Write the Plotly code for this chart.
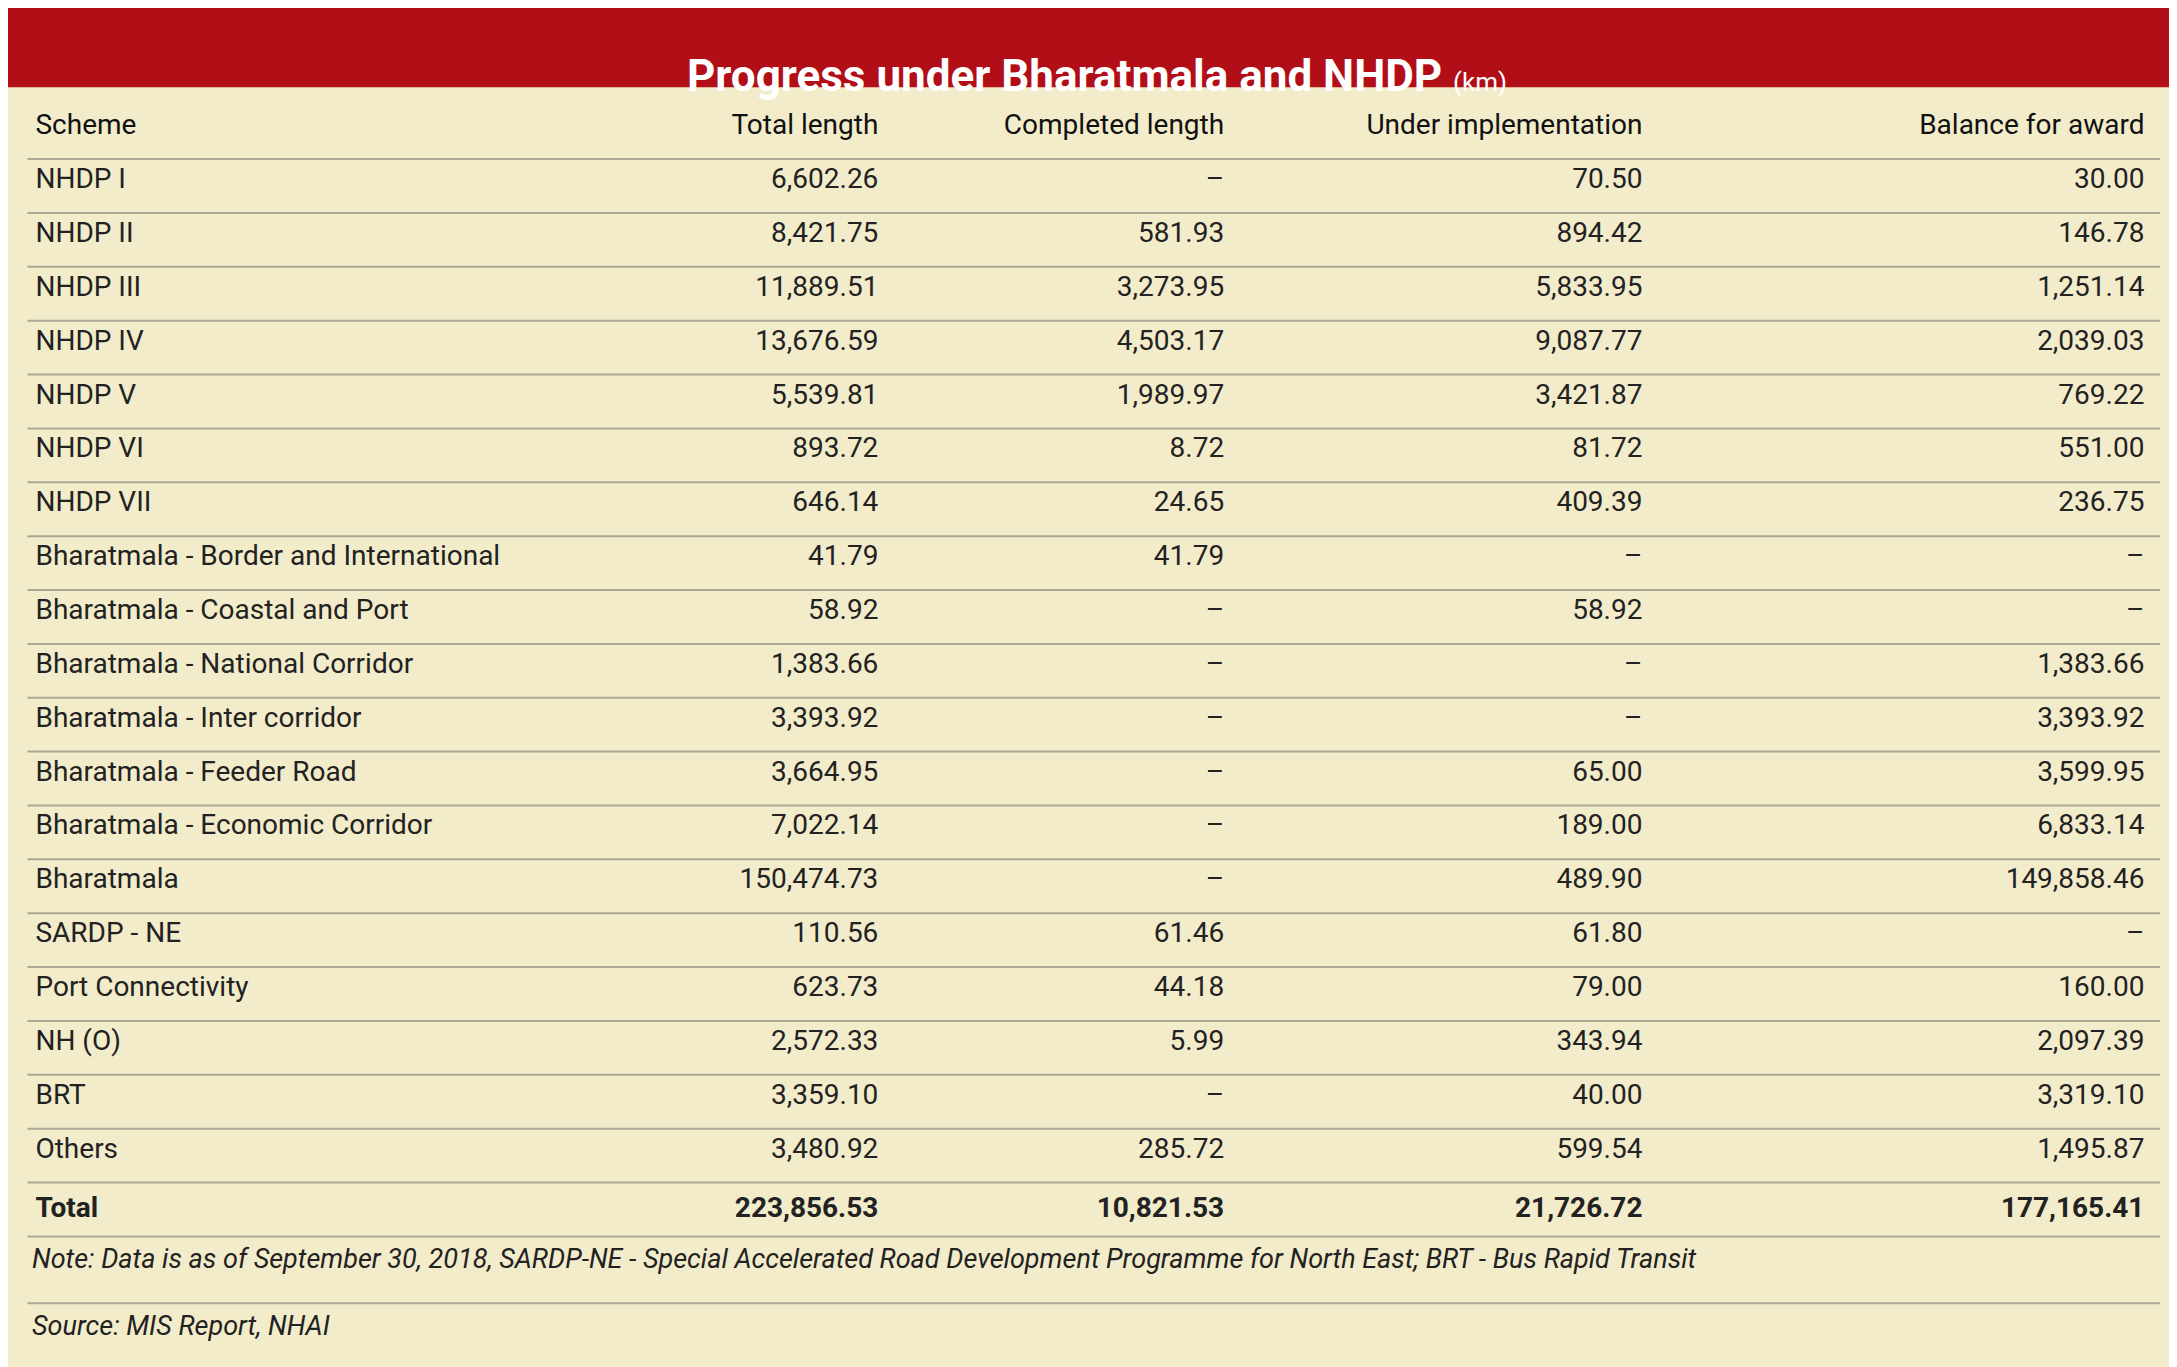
import plotly.graph_objects as go

W, H = 2177, 1367
s = W / 1568

schemes = ["NHDP I", "NHDP II", "NHDP III", "NHDP IV", "NHDP V", "NHDP VI", "NHDP VII",
           "Bharatmala - Border and International", "Bharatmala - Coastal and Port",
           "Bharatmala - National Corridor", "Bharatmala - Inter corridor",
           "Bharatmala - Feeder Road", "Bharatmala - Economic Corridor", "Bharatmala",
           "SARDP - NE", "Port Connectivity", "NH (O)", "BRT", "Others", "Total"]
total_len = ["6,602.26", "8,421.75", "11,889.51", "13,676.59", "5,539.81", "893.72", "646.14",
             "41.79", "58.92", "1,383.66", "3,393.92", "3,664.95", "7,022.14", "150,474.73",
             "110.56", "623.73", "2,572.33", "3,359.10", "3,480.92", "223,856.53"]
completed = ["–", "581.93", "3,273.95", "4,503.17", "1,989.97", "8.72", "24.65", "41.79", "–",
             "–", "–", "–", "–", "–", "61.46", "44.18", "5.99", "–", "285.72", "10,821.53"]
under_impl = ["70.50", "894.42", "5,833.95", "9,087.77", "3,421.87", "81.72", "409.39", "–",
              "58.92", "–", "–", "65.00", "189.00", "489.90", "61.80", "79.00", "343.94",
              "40.00", "599.54", "21,726.72"]
balance = ["30.00", "146.78", "1,251.14", "2,039.03", "769.22", "551.00", "236.75", "–", "–",
           "1,383.66", "3,393.92", "3,599.95", "6,833.14", "149,858.46", "–", "160.00",
           "2,097.39", "3,319.10", "1,495.87", "177,165.41"]
headers = ["Scheme", "Total length", "Completed length", "Under implementation", "Balance for award"]

BG = "#f2ecca"
RED = "#b20e17"
LINE = "#aaa795"
FONT = "Liberation Sans Narrow, Roboto, sans-serif"

def bold_last(col):
    return col[:-1] + ["<b>" + col[-1] + "</b>"]

cols = [bold_last(c) for c in [schemes, total_len, completed, under_impl, balance]]

row_h = 38.8 * s
top_px = 70 * s
n_rows = len(schemes) + 1
bottom_px = top_px + n_rows * row_h

fig = go.Figure(go.Table(
    domain=dict(x=[14 / 1568, 1545 / 1568], y=[1 - bottom_px / H, 1 - top_px / H]),
    columnwidth=[424, 192, 248, 300, 360],
    header=dict(values=headers, align=["left", "right", "right", "right", "right"],
                fill_color=BG, line_color=BG, height=row_h,
                font=dict(family=FONT, size=28, color="#111")),
    cells=dict(values=cols, align=["left", "right", "right", "right", "right"],
               fill_color=BG, line_color=BG, height=row_h,
               font=dict(family=FONT, size=28, color="#222")),
))

shapes = [dict(type="rect", xref="paper", yref="paper", x0=0, x1=1, y0=1 - 57 * s / H, y1=1,
               fillcolor=RED, line_width=0, layer="below")]
for i in range(1, n_rows + 1):
    y = 1 - (top_px + i * row_h) / H
    shapes.append(dict(type="line", xref="paper", yref="paper", x0=14 / 1568, x1=1550 / 1568,
                       y0=y, y1=y, line=dict(color=LINE, width=2)))
y_note = 1 - 933 * s / H
shapes.append(dict(type="line", xref="paper", yref="paper", x0=14 / 1568, x1=1550 / 1568,
                   y0=y_note, y1=y_note, line=dict(color=LINE, width=2)))

fig.update_layout(
    width=W, height=H, paper_bgcolor=BG, plot_bgcolor=BG,
    margin=dict(l=0, r=0, t=0, b=0), shapes=shapes,
    annotations=[
        dict(text="<b>Progress under Bharatmala and NHDP</b> <span style='font-size:26px'>(km)</span>",
             x=0.5, y=1 - 29 * s / H, xref="paper", yref="paper", showarrow=False,
             font=dict(family=FONT, size=44, color="white")),
        dict(text="<i>Note: Data is as of September 30, 2018, SARDP-NE - Special Accelerated Road Development Programme for North East; BRT - Bus Rapid Transit</i>",
             x=16 / 1568, y=1 - 914 * s / H, xref="paper", yref="paper", xanchor="left",
             showarrow=False, font=dict(family=FONT, size=27, color="#222")),
        dict(text="<i>Source: MIS Report, NHAI</i>",
             x=16 / 1568, y=1 - 962 * s / H, xref="paper", yref="paper", xanchor="left",
             showarrow=False, font=dict(family=FONT, size=27, color="#222")),
    ],
)

fig.write_html("out.html")
